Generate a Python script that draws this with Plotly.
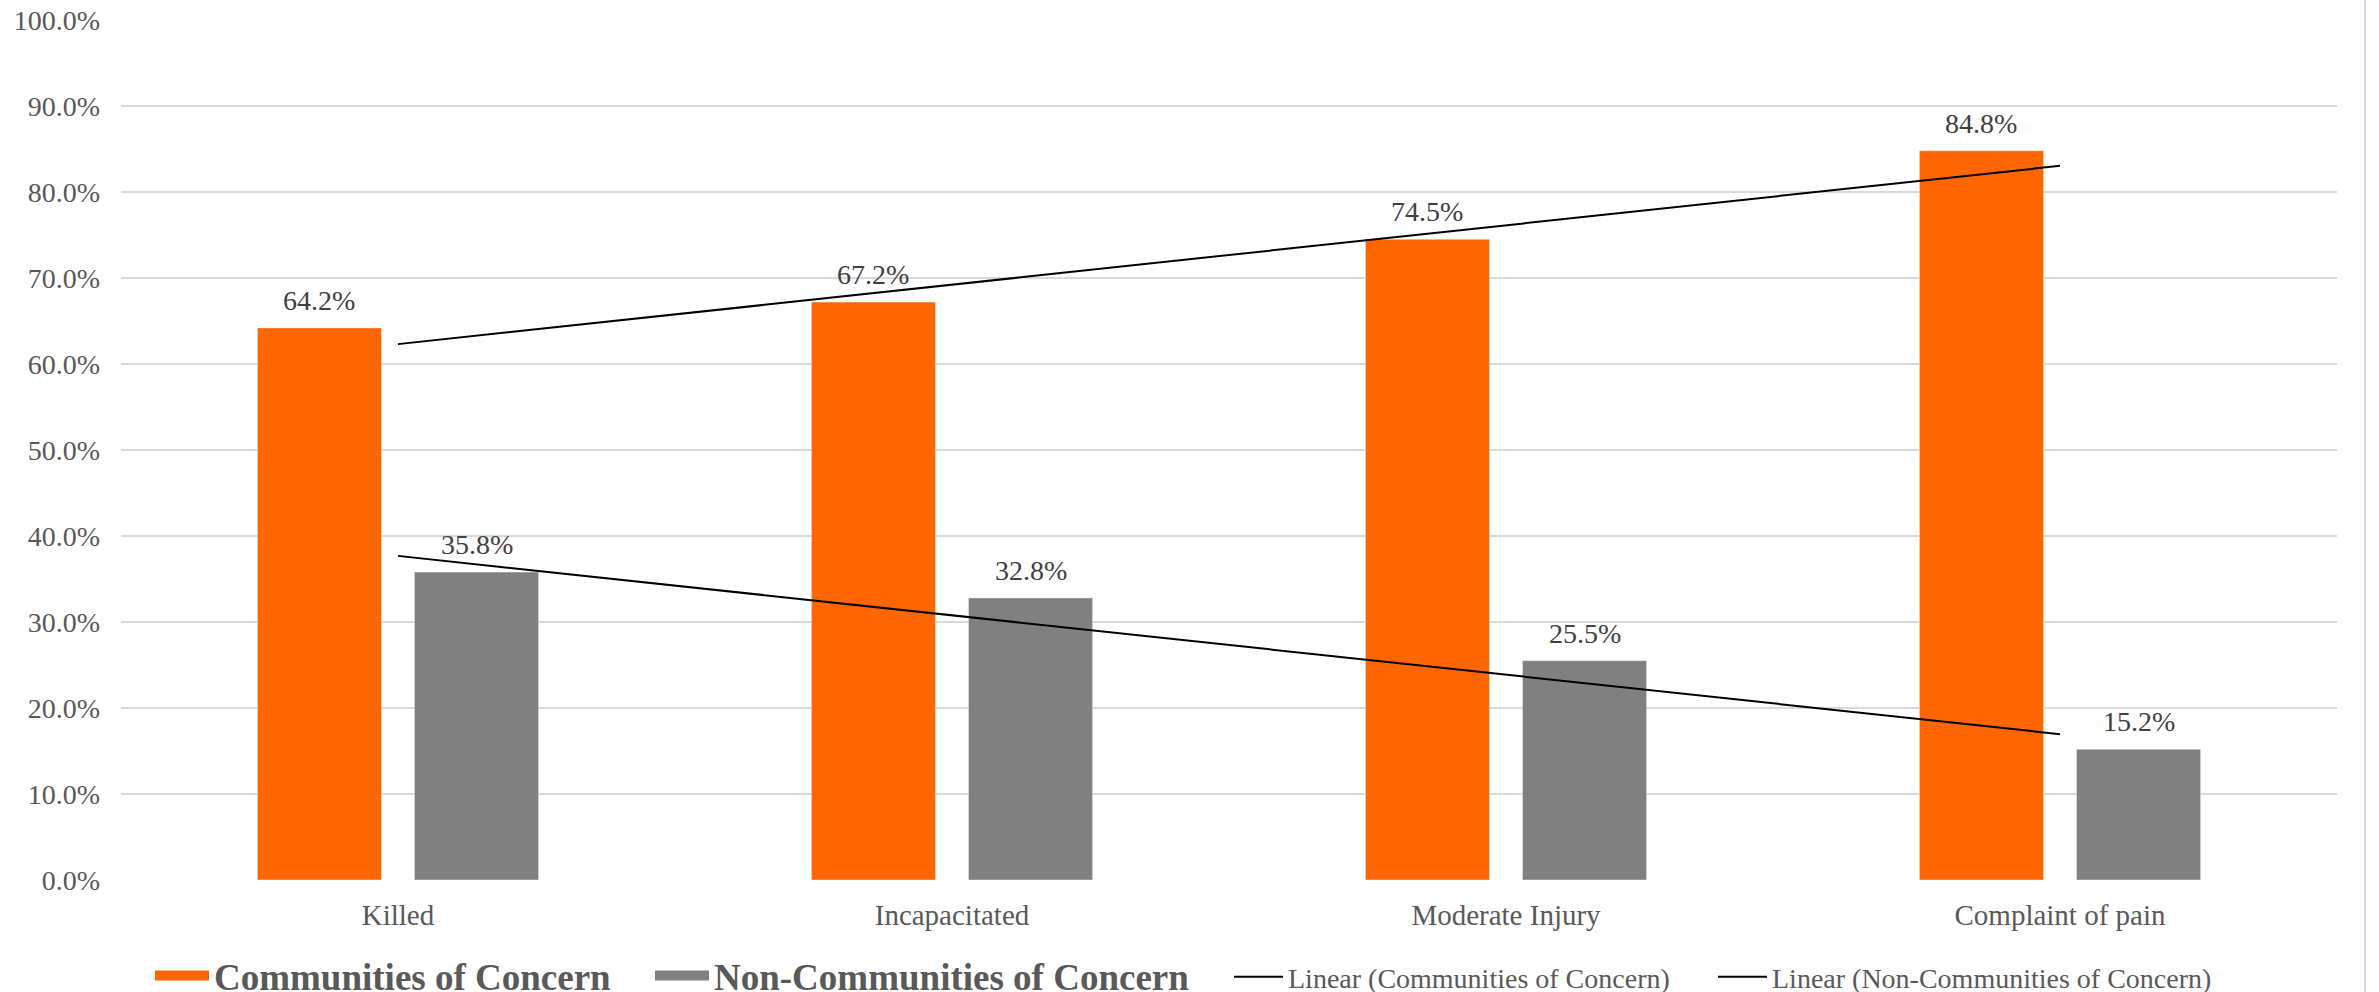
import numpy as np
import plotly.graph_objects as go

# Share of victims by injury severity
categories = ["Killed", "Incapacitated", "Moderate Injury", "Complaint of pain"]
coc_values = [64.2, 67.2, 74.5, 84.8]
non_coc_values = [35.8, 32.8, 25.5, 15.2]
y_ticks = [0, 10, 20, 30, 40, 50, 60, 70, 80, 90, 100]

coc_name = "Communities of Concern"
non_coc_name = "Non-Communities of Concern"

ORANGE = "#FF6600"
GRAY = "#808080"
FONT = "Liberation Serif"

W, H = 2379, 992
L, R, T, B = 121, 42, 20, 112
plot_w = W - L - R
plot_h = H - T - B
BARGAP, GROUPGAP = 0.433, 0.210

# horizontal offset of each bar centre from its category centre, in px
slot = plot_w / len(categories) * (1 - BARGAP) / 2
bar_offset = slot / 2


def px_x(px):
    return (px - L) / plot_w


def px_y(py):
    return (H - B - py) / plot_h


def linear_fit(values):
    xs = np.arange(1, len(values) + 1)
    slope, intercept = np.polyfit(xs, values, 1)
    return list(slope * xs + intercept)


fig = go.Figure()

fig.add_trace(go.Bar(
    x=categories, y=coc_values, name=coc_name, marker_color=ORANGE,
    showlegend=False,
))
fig.add_trace(go.Bar(
    x=categories, y=non_coc_values, name=non_coc_name, marker_color=GRAY,
    showlegend=False,
))

# Value labels above each bar
annotations = []
for vals, shift in [(coc_values, -bar_offset), (non_coc_values, bar_offset)]:
    for cat, v in zip(categories, vals):
        annotations.append(dict(
            x=cat, y=v, text=f"{v:.1f}%", showarrow=False,
            xanchor="center", yanchor="bottom", xshift=shift, yshift=10,
            font=dict(family=FONT, size=28, color="#404040"),
        ))

# Wide swatches for the bar series, each in its own legend box
for name, color, leg in [(coc_name, ORANGE, "legend"),
                         (non_coc_name, GRAY, "legend2")]:
    fig.add_trace(go.Scatter(
        x=[None], y=[None], mode="lines", name=f"<b>{name}</b>",
        line=dict(color=color, width=19), legend=leg,
    ))

# Linear trendlines
for name, vals, leg in [(coc_name, coc_values, "legend3"),
                        (non_coc_name, non_coc_values, "legend4")]:
    fig.add_trace(go.Scatter(
        x=categories, y=linear_fit(vals), mode="lines",
        name=f"Linear ({name})", line=dict(color="black", width=2),
        legend=leg, hoverinfo="skip",
    ))

big_legend = dict(
    orientation="h", xanchor="left", yanchor="middle", y=px_y(976),
    font=dict(family=FONT, size=37, color="#595959"),
    itemwidth=54, bgcolor="rgba(0,0,0,0)",
)
small_legend = dict(
    orientation="h", xanchor="left", yanchor="middle", y=px_y(977),
    font=dict(family=FONT, size=28, color="#595959"),
    itemwidth=49, bgcolor="rgba(0,0,0,0)",
)

fig.update_layout(
    width=W, height=H,
    margin=dict(l=L, r=R, t=T, b=B, autoexpand=False),
    paper_bgcolor="white", plot_bgcolor="white",
    barmode="group", bargap=BARGAP, bargroupgap=GROUPGAP,
    font=dict(family=FONT, color="#595959"),
    xaxis=dict(
        tickfont=dict(family=FONT, size=29, color="#595959"),
        showgrid=False, showline=False, ticks="", ticklabelstandoff=15,
        automargin=False,
    ),
    yaxis=dict(
        range=[0, 100], tickvals=y_ticks,
        ticktext=[f"{v:.1f}%" for v in y_ticks],
        tickfont=dict(family=FONT, size=28, color="#595959"),
        showgrid=True, gridcolor="#D9D9D9", gridwidth=1.5,
        zeroline=False, showline=False, ticks="", ticklabelstandoff=20,
        automargin=False,
    ),
    legend=dict(big_legend, x=px_x(150)),
    legend2=dict(big_legend, x=px_x(650)),
    legend3=dict(small_legend, x=px_x(1229)),
    legend4=dict(small_legend, x=px_x(1713)),
    annotations=annotations,
    shapes=[dict(
        type="line", xref="paper", yref="paper",
        x0=px_x(2365), x1=px_x(2365), y0=px_y(0), y1=px_y(H),
        line=dict(color="#D9D9D9", width=2),
    )],
)

fig.write_html("out.html")
